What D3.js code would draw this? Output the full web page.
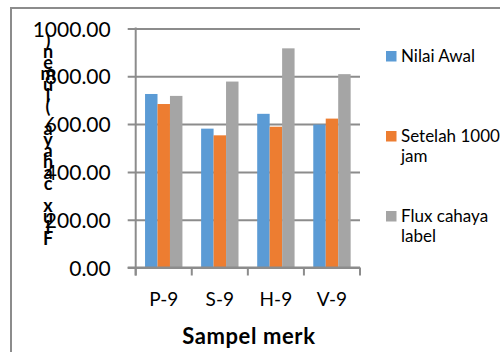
<!DOCTYPE html>
<html>
<head>
<meta charset="utf-8">
<script src="https://cdn.jsdelivr.net/npm/d3@7"></script>
<style>
  html, body { margin: 0; padding: 0; background: #fff; }
  svg { display: block; }
  text { font-family: Lato, "Open Sans", sans-serif; fill: #000; }
</style>
</head>
<body>
<svg id="chart" width="500" height="352"></svg>
<script>
// Data
const categories = ["P-9", "S-9", "H-9", "V-9"];
const seriesNames = ["Nilai Awal", "Setelah 1000 jam", "Flux cahaya label"];
const nilaiAwal = [726, 581, 643, 598];
const setelah1000 = [684, 553, 589, 623];
const fluxLabel = [718, 778, 917, 809];
const yTicks = [0, 200, 400, 600, 800, 1000];
const yTitle = "Flux cahaya (lumen)";
const xTitle = "Sampel merk";
const legendLines = [["Nilai Awal"], ["Setelah 1000", "jam"], ["Flux cahaya", "label"]];
const colors = ["#5B9BD5", "#ED7D31", "#A5A5A5"];

const series = [nilaiAwal, setelah1000, fluxLabel];

const svg = d3.select("#chart");
const gridColor = "#8c8c8c";

// Outer frame
svg.append("rect")
  .attr("x", 11).attr("y", 8)
  .attr("width", 700).attr("height", 700)
  .attr("fill", "none")
  .attr("stroke", gridColor)
  .attr("stroke-width", 2);

const plot = { left: 135.7, right: 360, top: 28.5, bottom: 267.5 };

const x0 = d3.scaleBand().domain(categories).range([plot.left, plot.right]).paddingInner(0).paddingOuter(0);
const bw = x0.bandwidth();
const x1 = d3.scaleBand().domain(d3.range(series.length)).range([bw * 0.1667, bw * 0.8333]).padding(0);
const y = d3.scaleLinear().domain([0, 1000]).range([plot.bottom, plot.top]);

// Horizontal gridlines with outward ticks
const yAxis = d3.axisLeft(y)
  .tickValues(yTicks)
  .tickSize(-(plot.right - plot.left))
  .tickFormat(d => d.toFixed(2));
const gy = svg.append("g").attr("transform", `translate(${plot.left},0)`).call(yAxis);
gy.select(".domain").remove();
gy.selectAll(".tick line")
  .attr("x1", -8)
  .attr("stroke", gridColor).attr("stroke-width", 2);
gy.selectAll(".tick text")
  .attr("x", -25)
  .attr("dy", "0.36em")
  .style("font-size", "21px")
  .style("font-family", "Lato, sans-serif")
  .attr("fill", "#000");

// Vertical axis line
svg.append("line")
  .attr("x1", plot.left).attr("x2", plot.left)
  .attr("y1", plot.top - 1).attr("y2", plot.bottom + 8)
  .attr("stroke", gridColor).attr("stroke-width", 2);

// Category axis ticks at band boundaries
const bounds = categories.map(c => x0(c)).concat([x0(categories[categories.length - 1]) + bw]);
svg.selectAll("line.xtick").data(bounds).enter().append("line")
  .attr("class", "xtick")
  .attr("x1", d => d).attr("x2", d => d)
  .attr("y1", plot.bottom).attr("y2", plot.bottom + 8)
  .attr("stroke", gridColor).attr("stroke-width", 2);

// Bars
const groups = svg.selectAll("g.cat").data(categories).enter().append("g")
  .attr("class", "cat")
  .attr("transform", d => `translate(${x0(d)},0)`);
groups.selectAll("rect").data((c, i) => series.map((s, k) => ({ k, v: s[i] }))).enter().append("rect")
  .attr("x", d => x1(d.k))
  .attr("width", x1.bandwidth())
  .attr("y", d => y(d.v))
  .attr("height", d => y(0) - y(d.v))
  .attr("fill", d => colors[d.k]);

// Redraw baseline over bars
svg.append("line")
  .attr("x1", plot.left - 8).attr("x2", plot.right)
  .attr("y1", plot.bottom).attr("y2", plot.bottom)
  .attr("stroke", gridColor).attr("stroke-width", 2);

// Category labels
svg.selectAll("text.xlab").data(categories).enter().append("text")
  .attr("class", "xlab")
  .attr("x", d => x0(d) + bw / 2)
  .attr("y", 306)
  .attr("text-anchor", "middle")
  .style("font-size", "19px")
  .text(d => d);

// X title
svg.append("text")
  .attr("x", (plot.left + plot.right) / 2 + 1)
  .attr("y", 344)
  .attr("text-anchor", "middle")
  .style("font-size", "22px")
  .style("letter-spacing", "0.6px")
  .style("font-weight", "bold")
  .text(xTitle);

// Y title: characters stacked bottom to top
const chars = Array.from(yTitle);
svg.append("g").selectAll("text").data(chars).enter().append("text")
  .attr("x", 48)
  .attr("y", (d, i) => 245 - i * 11)
  .attr("text-anchor", "middle")
  .style("font-size", "18px")
  .style("font-weight", "bold")
  .text(d => d);

// Legend
const legendY = [61.5, 141.5, 221.5];
const lg = svg.selectAll("g.leg").data(seriesNames).enter().append("g").attr("class", "leg");
lg.append("rect")
  .attr("x", 386).attr("y", (d, i) => legendY[i] - 10.5)
  .attr("width", 10.5).attr("height", 10.5)
  .attr("fill", (d, i) => colors[i]);
lg.each(function (d, i) {
  const t = d3.select(this).append("text")
    .attr("x", 401).attr("y", legendY[i])
    .style("font-size", "17px");
  legendLines[i].forEach((ln, j) => {
    t.append("tspan").attr("x", 401).attr("dy", j === 0 ? 0 : 20).text(ln);
  });
});
</script>
</body>
</html>
